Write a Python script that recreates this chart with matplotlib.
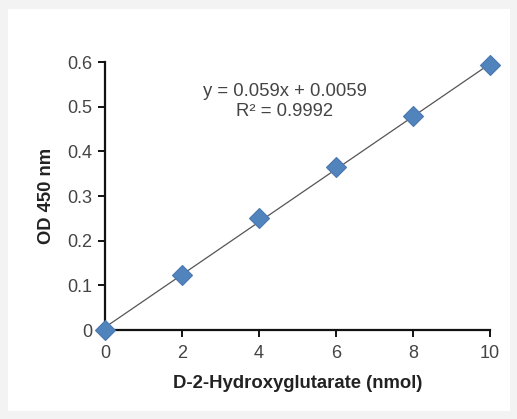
import matplotlib
matplotlib.use("Agg")
import matplotlib.pyplot as plt
import numpy as np

plt.rcParams['font.family'] = ['Liberation Sans', 'DejaVu Sans']

x_vals = [0, 2, 4, 6, 8, 10]
od_vals = [0.0, 0.123, 0.251, 0.365, 0.479, 0.593]
slope = 0.059
intercept = 0.0059
eq_text = "y = 0.059x + 0.0059"
r2_text = "R² = 0.9992"
xticks = [0, 2, 4, 6, 8, 10]
yticks = [0, 0.1, 0.2, 0.3, 0.4, 0.5, 0.6]
ytick_labels = ["0", "0.1", "0.2", "0.3", "0.4", "0.5", "0.6"]

fig = plt.figure(figsize=(5.17, 4.19), dpi=100, facecolor='#f3f3f3')
bg = fig.add_axes([8/517, 8/419, 502/517, 402/419], zorder=-1)
bg.set_facecolor('white')
bg.set_xticks([]); bg.set_yticks([])
for s in bg.spines.values():
    s.set_visible(False)

ax = fig.add_axes([105/517, 1-330/419, 385/517, 268/419], zorder=1)
ax.set_facecolor('none')

xl = np.array([0, 10])
ax.plot(xl, slope*xl + intercept, color='#555555', lw=0.9, zorder=2)
ax.plot(x_vals, od_vals, linestyle='none', marker='D', markersize=10,
        color='#5183bd', markeredgecolor='#4a78b0', markeredgewidth=0.8, zorder=3, clip_on=False)

ax.set_xlim(0, 10)
ax.set_ylim(0, 0.6)
ax.set_xticks(xticks)
ax.set_yticks(yticks)
ax.set_yticklabels(ytick_labels)
for s in ['top', 'right']:
    ax.spines[s].set_visible(False)
for s in ['left', 'bottom']:
    ax.spines[s].set_linewidth(1.6)
    ax.spines[s].set_color('#111111')
ax.tick_params(axis='both', direction='out', length=5, width=1.4, color='#111111',
               labelsize=13, labelcolor='#444444')
ax.tick_params(axis='x', pad=6)
ax.tick_params(axis='y', pad=4)

ax.set_xlabel("D-2-Hydroxyglutarate (nmol)", fontsize=13.3, fontweight='bold', color='#222222', labelpad=9)
ax.set_ylabel("OD 450 nm", fontsize=13.2, fontweight='bold', color='#222222', labelpad=9)

fig.text(285/517, 1-92/419, eq_text, ha='center', va='center', fontsize=13.3, color='#444444')
fig.text(285/517, 1-112/419, r2_text, ha='center', va='center', fontsize=13.3, color='#444444')

fig.savefig("out.png", dpi=100, facecolor=fig.get_facecolor())
